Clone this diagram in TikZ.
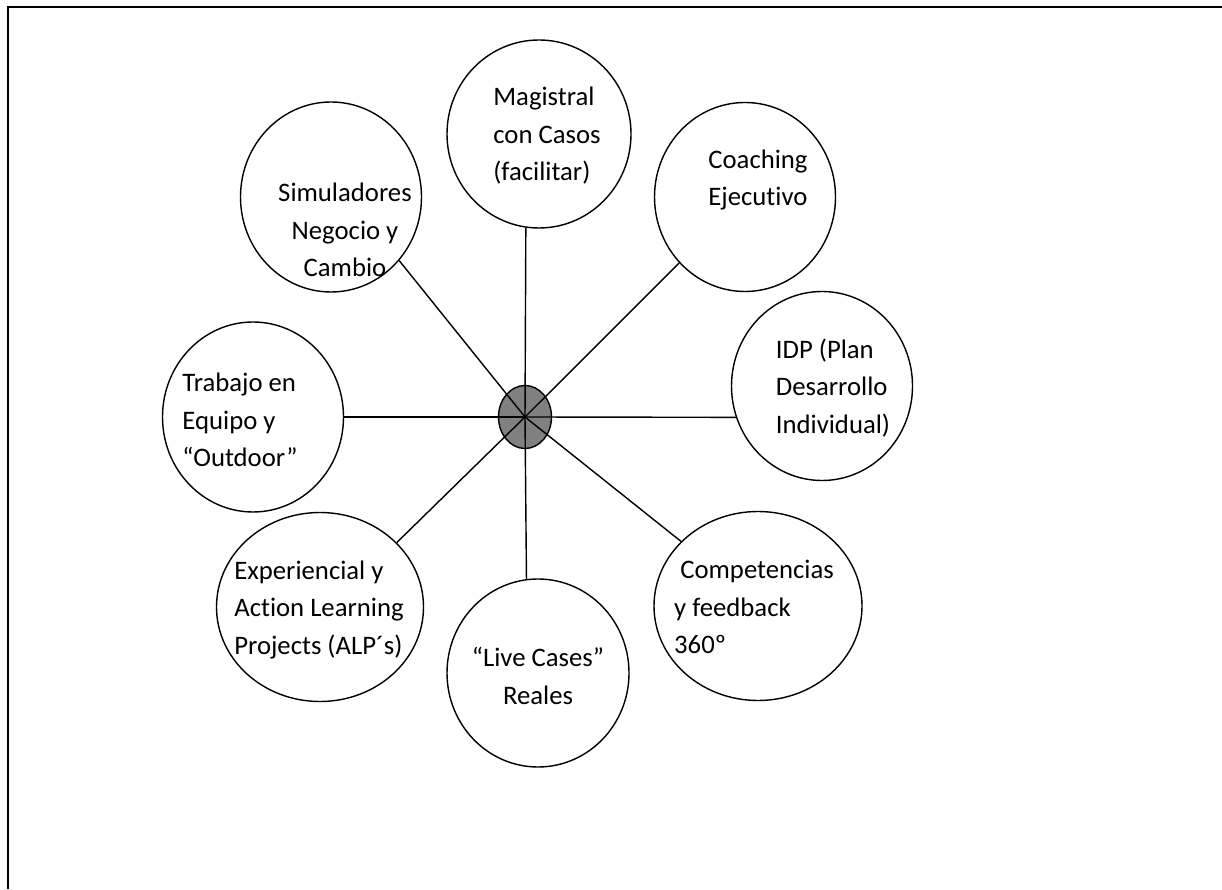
\documentclass[tikz,border=0pt]{standalone}
\usepackage{fontspec}
\setmainfont{Carlito}[Ligatures={NoCommon}]
\usetikzlibrary{shapes.geometric}
\definecolor{hubgray}{RGB}{128,128,128}

\begin{document}
\begin{tikzpicture}[
  bubble/.style={draw, ellipse, line width=1pt, inner sep=0pt},
  txt/.style={font=\fontsize{19}{26.7}\selectfont, inner sep=0pt},
]
\useasboundingbox (0,0) rectangle (30.55,22.225);
\path[draw,line width=1.6pt] (0.2,0) -- (0.2,22.05) -- (30.55,22.05);

\node[draw, ellipse, fill=hubgray, line width=1pt, inner sep=0pt, minimum width=1.325cm, minimum height=1.575cm] (0) at (13.125,11.8) {};
\node[bubble, minimum width=4.6cm, minimum height=4.7cm] (1) at (13.475,18.875) {};
\node[bubble, minimum width=4.525cm, minimum height=4.725cm] (2) at (18.625,17.3) {};
\node[bubble, minimum width=4.525cm, minimum height=4.725cm] (3) at (20.55,12.575) {};
\node[bubble, minimum width=5.2cm, minimum height=4.725cm] (4) at (18.95,7.075) {};
\node[bubble, minimum width=4.55cm, minimum height=4.7cm] (5) at (13.45,5.4) {};
\node[bubble, minimum width=5.175cm, minimum height=4.725cm] (6) at (8.0,7.05) {};
\node[bubble, minimum width=4.525cm, minimum height=4.75cm] (7) at (6.325,11.8) {};
\node[bubble, minimum width=4.525cm, minimum height=4.75cm] (8) at (8.275,17.3) {};

\node[txt, align=left] (t1) at (13.675,18.825) {Magistral\\con Casos\\(facilitar)};
\node[txt, align=left] (t2) at (18.95,17.725) {Coaching\\Ejecutivo};
\node[txt, align=left] (t3) at (20.825,12.525) {IDP (Plan\\Desarrollo\\Individual)};
\node[txt, align=left] (t4) at (18.85,7.05) {\hspace*{0.23em}Competencias\\y feedback\\360º};
\node[txt, align=center] (t5) at (13.45,5.325) {“Live Cases”\\Reales};
\node[txt, align=left] (t6) at (7.975,6.975) {Experiencial y\\Action Learning\\Projects (ALP´s)};
\node[txt, align=left] (t7) at (6.0,11.725) {Trabajo en\\Equipo y\\“Outdoor”};
\node[txt, align=center] (t8) at (8.625,16.475) {Simuladores\\Negocio y\\Cambio};

\path[draw,line width=1pt] (0.center) -- (1.-98);
\path[draw,line width=1pt] (0.center) -- (2.-135);
\path[draw,line width=1pt] (0.center) -- (3.200);
\path[draw,line width=1pt] (0.center) -- (4.140.7);
\path[draw,line width=1pt] (0.center) -- (5.97.3);
\path[draw,line width=1pt] (0.center) -- (6.40.2);
\path[draw,line width=1pt] (0.center) -- (7.0);
\path[draw,line width=1pt] (0.center) -- (8.-43.3);
\end{tikzpicture}
\end{document}
